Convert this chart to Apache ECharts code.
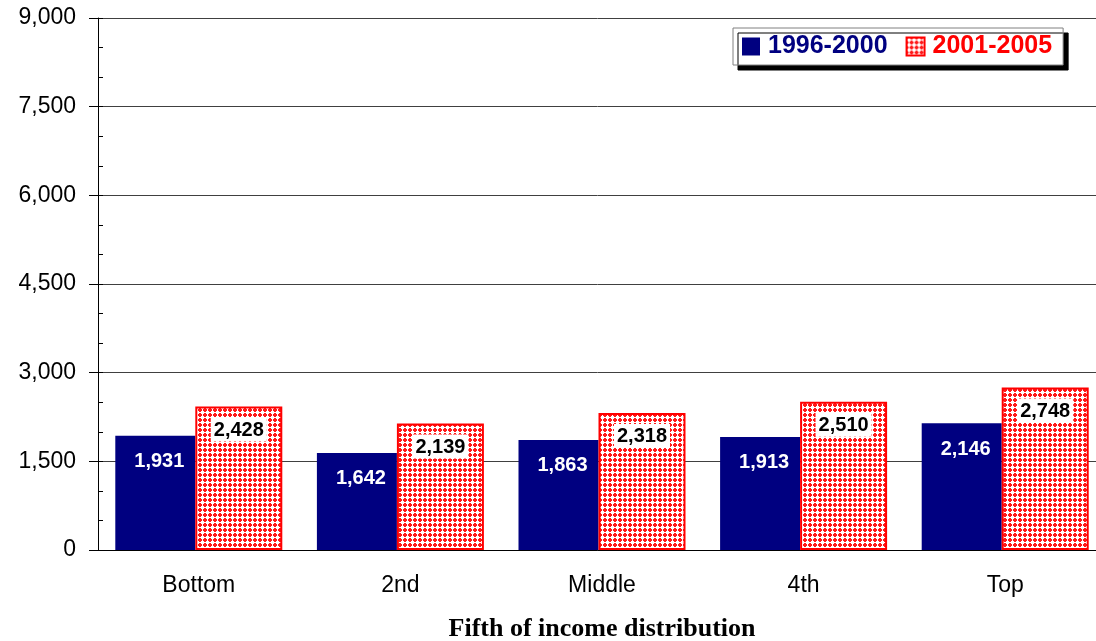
<!DOCTYPE html>
<html>
<head>
<meta charset="utf-8">
<script src="https://cdn.jsdelivr.net/npm/echarts@6/dist/echarts.min.js"></script>
<style>html,body{margin:0;padding:0;background:#fff;}#c{width:1096px;height:641px;}</style>
</head>
<body>
<div id="c"></div>
<script>
const categories = ['Bottom', '2nd', 'Middle', '4th', 'Top'];
const series1996 = [1931, 1642, 1863, 1913, 2146];
const series2001 = [2428, 2139, 2318, 2510, 2748];
const seriesNames = ['1996-2000', '2001-2005'];
const yTicks = { min: 0, max: 9000, interval: 1500, minorInterval: 500 };
const xAxisTitle = 'Fifth of income distribution';

// hatch pattern for the second series
const tile = document.createElement('canvas');
tile.width = 5; tile.height = 5;
const tc = tile.getContext('2d');
const rows = ['RRWRR', 'RWWWR', 'WWWWW', 'RWWWR', 'RRWRR'];
rows.forEach((r, y) => { for (let x = 0; x < 5; x++) { tc.fillStyle = r[x] === 'R' ? '#ff1a1a' : '#ffffff'; tc.fillRect(x, y, 1, 1); } });
const pattern = { image: tile, repeat: 'repeat' };

const fmt = v => v.toLocaleString('en-US');
const FONT = 'Liberation Sans, Arial, sans-serif';
const chart = echarts.init(document.getElementById('c'), null, { renderer: 'canvas' });
chart.setOption({
  animation: false,
  backgroundColor: '#fff',
  textStyle: { fontFamily: FONT },
  grid: { left: 98, right: -10, top: 18, bottom: 91, containLabel: false, outerBoundsMode: 'none' },
  legend: {
    left: 733, top: 28,
    padding: [6, 11, 6, 9],
    icon: 'rect',
    itemWidth: 18, itemHeight: 18, itemGap: 18,
    backgroundColor: '#fff', borderColor: '#808080', borderWidth: 1,
    shadowColor: '#000', shadowOffsetX: 5, shadowOffsetY: 5, shadowBlur: 0,
    data: [
      { name: seriesNames[0], textStyle: { color: '#000080' } },
      { name: seriesNames[1], textStyle: { color: '#ff0000' } }
    ],
    textStyle: { fontSize: 25, fontWeight: 'bold', fontFamily: FONT, padding: [0, 0, 0, 3] }
  },
  xAxis: {
    type: 'category',
    data: categories,
    axisLine: { lineStyle: { color: '#000', width: 1 } },
    axisTick: { length: 8, lineStyle: { color: '#000' } },
    axisLabel: { fontSize: 23, color: '#000', margin: 24 },
    name: xAxisTitle,
    nameLocation: 'middle',
    nameGap: 66,
    nameTextStyle: { fontFamily: 'Liberation Serif, Times New Roman, serif', fontWeight: 'bold', fontSize: 26, color: '#000' }
  },
  yAxis: [{
    type: 'value',
    min: yTicks.min, max: yTicks.max, interval: yTicks.interval,
    axisLine: { show: true, lineStyle: { color: '#000' } },
    axisTick: { show: true, length: 9, lineStyle: { color: '#000' } },
    axisLabel: { fontSize: 23, color: '#000', margin: 22, formatter: v => fmt(v) },
    splitLine: { show: true, lineStyle: { color: '#404040', width: 1 } }
  }, {
    type: 'value',
    position: 'left',
    min: yTicks.min, max: yTicks.max, interval: yTicks.minorInterval,
    axisLine: { show: false },
    axisTick: { show: true, inside: true, length: 5, lineStyle: { color: '#000' } },
    axisLabel: { show: false },
    splitLine: { show: false }
  }],
  series: [{
    name: seriesNames[0],
    type: 'bar',
    data: series1996,
    barWidth: 80,
    barGap: '0%',
    itemStyle: { color: '#000080' },
    label: {
      show: true, position: 'insideTop', distance: 16, offset: [4, 0],
      color: '#fff', fontWeight: 'bold', fontSize: 20,
      formatter: p => fmt(p.value)
    }
  }, {
    name: seriesNames[1],
    type: 'bar',
    data: series2001,
    barWidth: 87,
    itemStyle: { color: pattern, borderColor: '#ff0000', borderWidth: 2 },
    label: {
      show: true, position: 'insideTop', distance: 11,
      color: '#000', fontWeight: 'bold', fontSize: 20,
      backgroundColor: '#fff', padding: [3, 3, 1, 3],
      formatter: p => fmt(p.value)
    }
  }]
});
</script>
</body>
</html>
